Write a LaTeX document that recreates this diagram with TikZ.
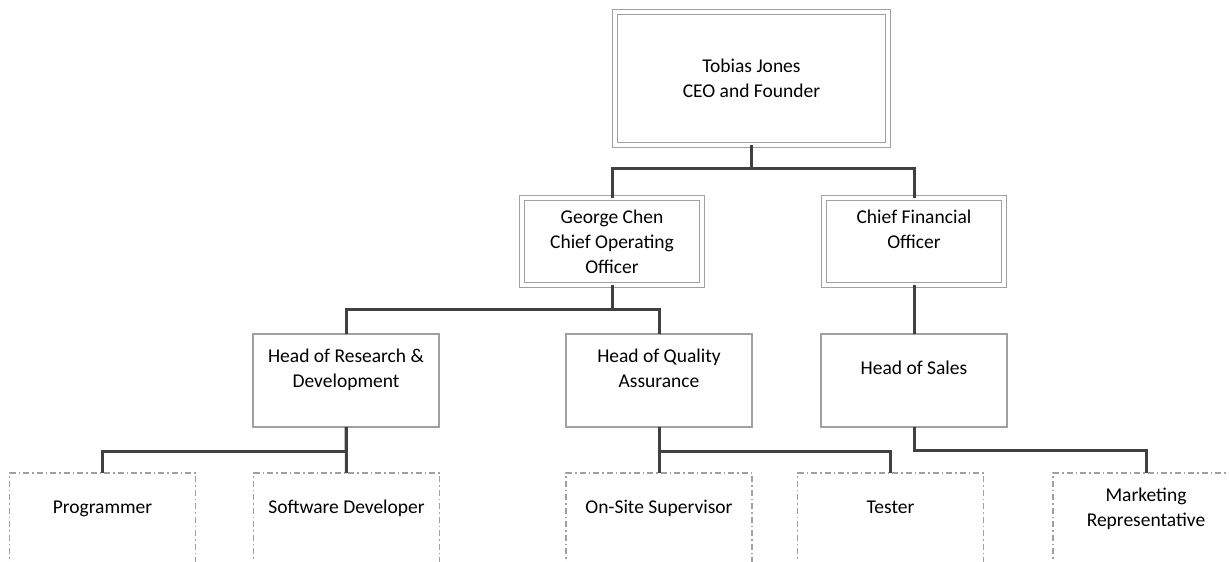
\documentclass[tikz,border=0pt]{standalone}
\usepackage{fontspec}
\setmainfont{Carlito}
\usetikzlibrary{arrows, shapes, positioning}
\definecolor{boxgray}{HTML}{A0A0A0}
\definecolor{linegray}{HTML}{404040}

\begin{document}
\begin{tikzpicture}[x=1pt, y=-1pt, font=\fontsize{19.5}{25}\selectfont]
        \tikzstyle{block} = [draw=boxgray, shape=rectangle, minimum width=186pt,
        minimum height=93pt, align=center, line width=1.2pt, inner sep=3pt, outer sep=0pt]
        \tikzstyle{chief} = [block, double=white, double distance=4pt, line width=1pt,
        minimum width=180pt, minimum height=87pt]
        \tikzstyle{staff} = [block, dash pattern=on 6pt off 3pt on 1.5pt off 3pt]
        \tikzstyle{raised} = [text depth=25pt]
        \useasboundingbox (0,0) rectangle (1229,562);
        \clip (0,0) rectangle (1229,562);
        %Creating Blocks
        \node [chief, minimum width=273pt, minimum height=133pt] at (751.5,78.5) (ceo) {Tobias Jones\\CEO and Founder};
        \node [chief] at (612,241.5) (coo) {George Chen\\Chief Operating\\Officer};
        \node [chief, raised] at (914,241.5) (cfo) {Chief Financial\\Officer};
        \node [block, raised] at (346,380.5) (research) {Head of Research \&\\Development};
        \node [block, raised] at (659,380.5) (quality) {Head of Quality\\Assurance};
        \node [block, raised, below of=cfo, node distance=139pt] (sales) {Head of Sales};
        \node [staff, raised] at (102.5,519.5) (programmer) {Programmer};
        \node [staff, raised] at (346.5,519.5) (developer) {Software Developer};
        \node [staff, raised] at (659,519.5) (supervisor) {On-Site Supervisor};
        \node [staff, raised] at (890.5,519.5) (tester) {Tester};
        \node [staff, raised] at (1146,519.5) (marketing) {Marketing\\Representative};

        %Connecting Blocks
        \begin{scope}[line width=3pt, draw=linegray]
            \draw (ceo.south) -- ++(0,23) -| (coo.north);
            \draw (ceo.south) -- ++(0,23) -| (cfo.north);
            \draw (coo.south) -- ++(0,24) -| (research.north);
            \draw (coo.south) -- ++(0,24) -| (quality.north);
            \draw (cfo) -- (sales);
            \draw (research.south) -- ++(0,24) -| (programmer.north);
            \draw (research.south) -- (developer.north);
            \draw (quality.south) -- ++(0,24) -| (supervisor.north);
            \draw (quality.south) -- ++(0,24) -| (tester.north);
            \draw (sales.south) -- ++(0,23) -| (marketing.north);
        \end{scope}
    \end{tikzpicture}
\end{document}
